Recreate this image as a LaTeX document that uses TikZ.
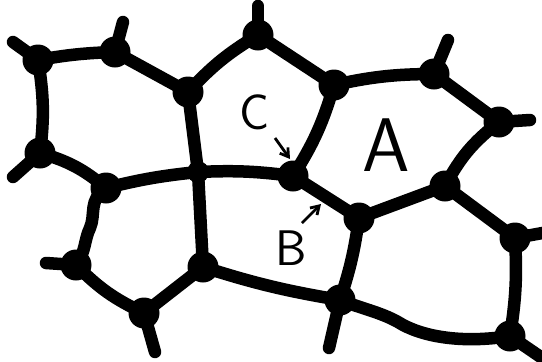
\documentclass[tikz,border=0pt]{standalone}
\usetikzlibrary{arrows.meta,backgrounds}
\tikzset{
  dot/.style={circle,fill=black,inner sep=0pt,minimum size=31pt},
  smalldot/.style={circle,fill=black,inner sep=0pt,minimum size=22pt},
  wall/.style={line width=12.5pt,line cap=round,line join=round},
  lbl/.style={font=\sffamily},
  pointer/.style={line width=2.8pt,-{Straight Barb[length=8pt,width=10pt,line width=2.8pt]}}
}
\begin{document}
\begin{tikzpicture}[x=1pt,y=-1pt]
\useasboundingbox (0,0) rectangle (542,362);
% vertices
\node[dot] (v1) at (38,60) {};
\node[dot] (v2) at (115,52) {};
\node[dot] (v3) at (188,92) {};
\node[dot] (v4) at (258,35) {};
\node[dot] (v5) at (40,153) {};
\node[dot] (p) at (106,188) {};
\node[smalldot] (x) at (198,172) {};
\node[dot] (c) at (293,176) {};
\node[dot] (v7) at (334,85) {};
\node[dot] (v8) at (434,74) {};
\node[dot] (v9) at (499,122) {};
\node[dot] (t) at (445,186) {};
\node[dot] (b) at (359,218) {};
\node[dot] (s) at (515,238) {};
\node[dot] (r) at (510,336) {};
\node[dot] (q) at (340,300) {};
\node[dot] (vm) at (203,267) {};
\node[dot] (vb) at (144,313) {};
\node[dot] (vl) at (76,265) {};
% free ends
\coordinate (e1) at (13,42);
\coordinate (e2) at (123,22);
\coordinate (e4) at (258,6);
\coordinate (e5) at (13,177);
\coordinate (e8) at (448,40);
\coordinate (e9) at (530,120);
\coordinate (es) at (548,232);
\coordinate (er) at (548,362);
\coordinate (eq) at (329,348);
\coordinate (eb) at (155,352);
\coordinate (el) at (46,263);
\begin{scope}[on background layer]
\draw[wall] (v1.center) -- (e1);
\draw[wall] (v2.center) -- (e2);
\draw[wall] (v4.center) -- (e4);
\draw[wall] (v5.center) -- (e5);
\draw[wall] (v8.center) -- (e8);
\draw[wall] (v9.center) -- (e9);
\draw[wall] (s.center) -- (es);
\draw[wall] (r.center) -- (er);
\draw[wall] (q.center) -- (eq);
\draw[wall] (vb.center) -- (eb);
\draw[wall] (vl.center) -- (el);
\draw[wall] (v1.center) to[bend left=4] (v2.center);
\draw[wall] (v2.center) -- (v3.center);
\draw[wall] (v3.center) to[bend left=8] (v4.center);
\draw[wall] (v4.center) -- (v7.center);
\draw[wall] (v3.center) -- (x.center);
\draw[wall] (v1.center) to[bend left=8] (v5.center);
\draw[wall] (v5.center) to[bend left=12] (p.center);
\draw[wall] (p.center) to[bend left=4] (x.center);
\draw[wall] (x.center) to[bend left=5] (c.center);
\draw[wall] (c.center) to[bend right=8] (v7.center);
\draw[wall] (v7.center) to[bend left=6] (v8.center);
\draw[wall] (v8.center) -- (v9.center);
\draw[wall] (v9.center) to[bend right=12] (t.center);
\draw[wall] (t.center) -- (s.center);
\draw[wall] (t.center) -- (b.center);
\draw[wall] (c.center) -- (b.center);
\draw[wall] (b.center) to[bend left=5] (q.center);
\draw[wall] (s.center) to[bend left=6] (r.center);
\draw[wall] (r.center) .. controls (460,344) and (420,336) .. (398,322) .. controls (380,312) and (360,308) .. (q.center);
\draw[wall] (q.center) to[bend left=4] (vm.center);
\draw[wall] (vm.center) -- (x.center);
\draw[wall] (vm.center) -- (vb.center);
\draw[wall] (vb.center) to[bend right=-10] (vl.center);
\draw[wall] (vl.center) .. controls (86,252) and (84,240) .. (90,228) .. controls (96,214) and (88,200) .. (p.center);
\end{scope}
% labels
\node[lbl,font=\sffamily\fontsize{50}{50}\selectfont] (lc) at (255,112) {C};
\node[lbl,font=\sffamily\fontsize{76}{76}\selectfont] (la) at (386,145) {A};
\node[lbl,font=\sffamily\fontsize{50}{50}\selectfont] (lb) at (291,248) {B};
\coordinate (ca) at (275,138);
\coordinate (cb) at (290,159);
\coordinate (ba) at (302,223);
\coordinate (bb) at (321,204);
\draw[pointer] (ca) -- (cb);
\draw[pointer] (ba) -- (bb);
\end{tikzpicture}
\end{document}
